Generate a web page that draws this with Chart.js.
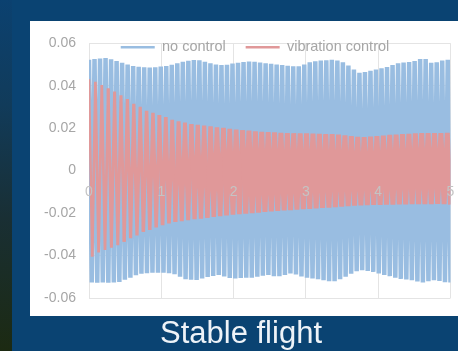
<!DOCTYPE html>
<html>
<head>
<meta charset="utf-8">
<script src="https://cdn.jsdelivr.net/npm/chart.js@4/dist/chart.umd.min.js"></script>
<style>
  html, body { margin: 0; padding: 0; width: 458px; height: 351px; overflow: hidden; background: #0a4372; }
  #edge { position: absolute; left: 0; top: 0; width: 12px; height: 351px;
          background: linear-gradient(#0b4170 0%, #113b5a 30%, #192f34 62%, #1c2a12 100%); }
  #panel { position: absolute; left: 30px; top: 21px; width: 450px; height: 295px; background: #ffffff; }
  #title { position: absolute; left: 160px; top: 315px; line-height: 36px; white-space: nowrap;
           color: #eef3f8; font: 31px "Liberation Sans", Arial, sans-serif; }
</style>
</head>
<body>
<div id="edge"></div>
<div id="panel"><canvas id="chart" width="450" height="295" style="width:450px;height:295px"></canvas></div>
<div id="title">Stable flight</div>
<script>
// Time span of the record, in seconds
const timeEnd = 5;

// Peaks of each oscillation, no control (upper and lower swing)
const noControlUpper = [
  0.0522, 0.0526, 0.0528, 0.0530, 0.0524, 0.0516, 0.0508, 0.0500, 0.0492, 0.0489,
  0.0487, 0.0486, 0.0487, 0.0490, 0.0493, 0.0498, 0.0505, 0.0512, 0.0517, 0.0521,
  0.0519, 0.0512, 0.0505, 0.0500, 0.0497, 0.0498, 0.0504, 0.0508, 0.0511, 0.0514,
  0.0513, 0.0509, 0.0506, 0.0503, 0.0500, 0.0497, 0.0494, 0.0491, 0.0491, 0.0500,
  0.0510, 0.0515, 0.0518, 0.0520, 0.0522, 0.0518, 0.0510, 0.0495, 0.0476, 0.0461,
  0.0464, 0.0470, 0.0476, 0.0482, 0.0488, 0.0497, 0.0505, 0.0509, 0.0511, 0.0516,
  0.0526, 0.0526, 0.0508, 0.0510, 0.0518, 0.0522
];
const noControlLower = [
  -0.0527, -0.0528, -0.0527, -0.0528, -0.0527, -0.0525, -0.0514, -0.0504, -0.0493, -0.0486,
  -0.0483, -0.0481, -0.0481, -0.0481, -0.0483, -0.0488, -0.0500, -0.0511, -0.0514, -0.0515,
  -0.0508, -0.0501, -0.0496, -0.0492, -0.0499, -0.0506, -0.0508, -0.0506, -0.0505, -0.0504,
  -0.0500, -0.0495, -0.0492, -0.0497, -0.0498, -0.0491, -0.0485, -0.0489, -0.0499, -0.0505,
  -0.0508, -0.0511, -0.0516, -0.0521, -0.0521, -0.0512, -0.0500, -0.0486, -0.0474, -0.0469,
  -0.0473, -0.0477, -0.0484, -0.0491, -0.0497, -0.0505, -0.0510, -0.0513, -0.0516, -0.0522,
  -0.0527, -0.0521, -0.0516, -0.0520, -0.0526, -0.0527
];

// Peaks of each oscillation, vibration control (upper and lower swing)
const controlUpper = [
  0.0430, 0.0418, 0.0403, 0.0387, 0.0372, 0.0355, 0.0337, 0.0315, 0.0300, 0.0282,
  0.0272, 0.0262, 0.0252, 0.0239, 0.0232, 0.0226, 0.0219, 0.0216, 0.0212, 0.0208,
  0.0204, 0.0201, 0.0197, 0.0193, 0.0190, 0.0188, 0.0185, 0.0182, 0.0181, 0.0180,
  0.0178, 0.0177, 0.0176, 0.0175, 0.0175, 0.0174, 0.0173, 0.0172, 0.0172, 0.0170,
  0.0166, 0.0162, 0.0159, 0.0158, 0.0160, 0.0162, 0.0165, 0.0168, 0.0170, 0.0172,
  0.0173, 0.0175, 0.0176, 0.0177, 0.0176, 0.0177, 0.0178
];
const controlLower = [
  -0.0405, -0.0386, -0.0374, -0.0363, -0.0352, -0.0335, -0.0318, -0.0305, -0.0288, -0.0280,
  -0.0268, -0.0257, -0.0249, -0.0242, -0.0238, -0.0233, -0.0229, -0.0226, -0.0222, -0.0218,
  -0.0215, -0.0211, -0.0208, -0.0205, -0.0203, -0.0200, -0.0198, -0.0195, -0.0192, -0.0190,
  -0.0188, -0.0186, -0.0184, -0.0182, -0.0180, -0.0178, -0.0176, -0.0174, -0.0172, -0.0170,
  -0.0167, -0.0165, -0.0164, -0.0163, -0.0162, -0.0161, -0.0160, -0.0160, -0.0159, -0.0159,
  -0.0158, -0.0158, -0.0158, -0.0158, -0.0157, -0.0158, -0.0160
];

// Axis ticks
const xTicks = [0, 1, 2, 3, 4, 5];
const yTicks = [-0.06, -0.04, -0.02, 0, 0.02, 0.04, 0.06];

// Series names
const seriesNames = ['no control', 'vibration control'];

// Alternate upper/lower swings into one evenly sampled trace
function trace(upper, lower) {
  const vals = [];
  for (let i = 0; i < upper.length; i++) { vals.push(upper[i], lower[i]); }
  const dt = timeEnd / (vals.length - 1);
  return vals.map((y, i) => ({ x: i * dt, y }));
}

// Stroke widths: dense trace for the free response; the controlled trace
// thickens as its oscillation settles into a tight band
const noControlStroke = () => 4.5;
function controlStroke(ctx) {
  const s = Math.min(ctx.p0.parsed.x / 2.2, 1);
  return Math.round((2.6 + 2.4 * s) * 4) / 4;
}

const textGrey = '#a6a6a6';
const gridGrey = '#e4e4e4';
const font = '"Liberation Sans", Arial, sans-serif';

// Moves the legend down into the top of the plot area, centred on the canvas
const legendInPlot = {
  id: 'legendInPlot',
  afterLayout(chart) {
    const lg = chart.legend;
    if (!lg) return;
    const h = lg.height;
    lg.top = -1;
    lg.bottom = lg.top + h;
    lg.left = 0;
    lg.right = chart.width;
    lg.width = chart.width;
  }
};

new Chart(document.getElementById('chart'), {
  type: 'line',
  data: {
    datasets: [
      {
        label: seriesNames[0],
        data: trace(noControlUpper, noControlLower),
        borderColor: '#99bde1',
        backgroundColor: '#99bde1',
        borderWidth: 2.5,
        segment: { borderWidth: noControlStroke },
        pointRadius: 0,
        tension: 0,
        order: 1
      },
      {
        label: seriesNames[1],
        data: trace(controlUpper, controlLower),
        borderColor: '#e09899',
        backgroundColor: '#e09899',
        borderWidth: 2.5,
        segment: { borderWidth: controlStroke },
        pointRadius: 0,
        tension: 0,
        order: 0
      }
    ]
  },
  options: {
    responsive: false,
    animation: false,
    events: [],
    layout: { padding: { top: -22.3, right: 29.5, bottom: 18, left: 0 } },
    plugins: {
      tooltip: { enabled: false },
      legend: {
        position: 'top',
        labels: {
          usePointStyle: true,
          pointStyle: 'line',
          pointStyleWidth: 34,
          padding: 20,
          color: textGrey,
          font: { family: font, size: 14.5 },
          sort: (a, b) => a.datasetIndex - b.datasetIndex
        }
      }
    },
    scales: {
      x: {
        type: 'linear',
        position: { y: 0 },          // time axis crosses at zero
        min: 0,
        max: timeEnd,
        afterBuildTicks: s => { s.ticks = xTicks.map(v => ({ value: v })); },
        ticks: {
          z: 1,                      // labels drawn over the traces
          color: '#c4c4c4',
          padding: 13,
          maxRotation: 0,
          autoSkip: false,
          font: { family: font, size: 14 },
          callback: v => String(v)
        },
        grid: { color: gridGrey, drawTicks: false, lineWidth: 1 },
        border: { display: false }
      },
      y: {
        min: -0.06,
        max: 0.06,
        afterBuildTicks: s => { s.ticks = yTicks.map(v => ({ value: v })); },
        afterFit: s => { s.width = 59; s.paddingTop = 0; s.paddingBottom = 0; },
        ticks: {
          color: textGrey,
          padding: 13,
          font: { family: font, size: 14 },
          callback: v => String(Number(v.toFixed(2)))
        },
        grid: { color: gridGrey, drawTicks: false, lineWidth: 1 },
        border: { display: false }
      }
    }
  },
  plugins: [legendInPlot]
});
</script>
</body>
</html>
